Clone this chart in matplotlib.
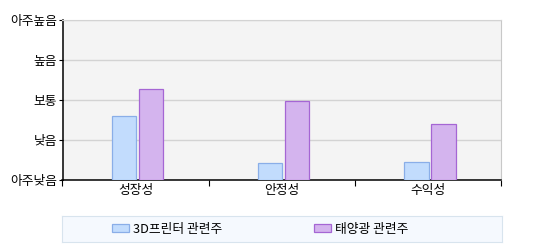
import matplotlib
matplotlib.use('Agg')
import matplotlib.pyplot as plt
import numpy as np

plt.rcParams['font.family'] = ['Noto Sans CJK KR', 'DejaVu Sans']

categories = ['성장성', '안정성', '수익성']
level_labels = ['아주낮음', '낮음', '보통', '높음', '아주높음']
series_names = ['3D프린터 관련주', '태양광 관련주']
printer_3d = [1.6, 0.42, 0.45]
solar = [2.27, 1.98, 1.38]

blue_fill, blue_edge = '#c2dcfd', '#8aaee8'
purple_fill, purple_edge = '#d4b4ee', '#a566d4'

fig = plt.figure(figsize=(5.44, 2.5), dpi=100)
ax = fig.add_axes([62.5 / 544, 70.5 / 250, 438.5 / 544, 159.5 / 250])
ax.set_facecolor('#f4f4f4')

x = np.arange(len(categories))
w = 0.167
b1 = ax.bar(x - 0.079, printer_3d, w, color=blue_fill, edgecolor=blue_edge, linewidth=0.9, zorder=3)
b2 = ax.bar(x + 0.106, solar, w, color=purple_fill, edgecolor=purple_edge, linewidth=0.9, zorder=3)

ax.set_xlim(-0.5, len(categories) - 0.5)
ax.set_ylim(0, 4)
ax.set_yticks(range(5))
ax.set_yticklabels(level_labels, fontsize=9.2)
ax.yaxis.grid(True, color='#d3d3d3', linewidth=1.0, zorder=0)
ax.tick_params(axis='y', length=3, width=0.8, pad=1)

ax.set_xticks(x)
ax.set_xticklabels(categories, fontsize=9.2)
ax.set_xticks(np.arange(len(categories) + 1) - 0.5, minor=True)
ax.tick_params(axis='x', which='major', length=0, pad=3)
ax.tick_params(axis='x', which='minor', length=4, width=0.8)

for s in ['left', 'bottom']:
    ax.spines[s].set_color('black')
    ax.spines[s].set_linewidth(1.1)
ax.spines['right'].set_color('#c8c8c8')
ax.spines['top'].set_color('#d3d3d3')

# legend box
lax = fig.add_axes([62.3 / 544, 7.7 / 250, 439.4 / 544, 26.3 / 250])
lax.set_facecolor('#f5f9fe')
lax.set_xticks([])
lax.set_yticks([])
for s in lax.spines.values():
    s.set_color('#d8e4ee')
lax.legend([b1, b2], series_names, loc='center left', bbox_to_anchor=(49.5 / 439.4, 0.5),
           ncol=2, frameon=False, fontsize=9.2, handlelength=1.35, handleheight=0.55,
           handletextpad=0.3, columnspacing=7.2, borderaxespad=0, borderpad=0)

fig.savefig('out.png', dpi=100)
